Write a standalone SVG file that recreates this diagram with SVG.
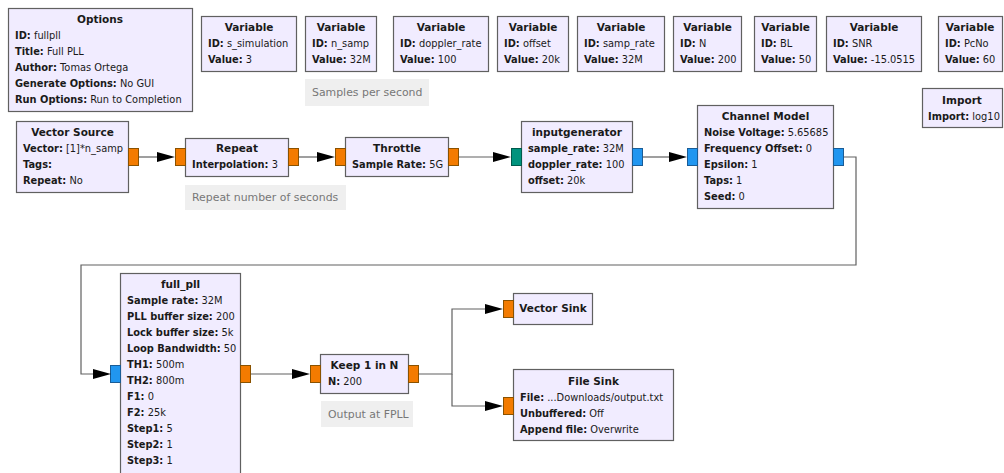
<svg xmlns="http://www.w3.org/2000/svg" width="1004" height="473" viewBox="0 0 1004 473">
<style>
.blk{fill:#F1ECFF;stroke:#606060;stroke-width:1.2}
text{font-family:"DejaVu Sans","Noto Sans",sans-serif;font-size:9.85px;fill:#1a1a1a}
.t{font-weight:bold;text-anchor:middle;font-size:10.5px}
.b{font-weight:bold}
.cm{fill:#EFEFEF}
.ct{fill:#777;font-size:10.9px}
.po{fill:#F37B00;stroke:#8A5200;stroke-width:1}
.pb{fill:#2196F0;stroke:#1A5C96;stroke-width:1}
.pt{fill:#00937D;stroke:#005A4C;stroke-width:1}
.w{fill:none;stroke:#606060;stroke-width:1.2}
.ah{fill:#000}
</style>
<rect width="1004" height="473" fill="#fff"/>

<g id="options">
<rect class="blk" x="8.5" y="8.5" width="184" height="103"/>
<text class="t" x="100" y="23">Options</text>
<text x="15" y="39"><tspan class="b">ID:</tspan> fullpll</text>
<text x="15" y="55"><tspan class="b">Title:</tspan> Full PLL</text>
<text x="15" y="71"><tspan class="b">Author:</tspan> Tomas Ortega</text>
<text x="15" y="87"><tspan class="b">Generate Options:</tspan> No GUI</text>
<text x="15" y="103"><tspan class="b">Run Options:</tspan> Run to Completion</text>
</g>

<g id="var_s_simulation">
<rect class="blk" x="201.5" y="16.5" width="95" height="55"/>
<text class="t" x="249" y="31">Variable</text>
<text x="208" y="47"><tspan class="b">ID:</tspan> s_simulation</text>
<text x="208" y="63"><tspan class="b">Value:</tspan> 3</text>
</g>

<g id="var_n_samp">
<rect class="blk" x="305.5" y="16.5" width="71" height="55"/>
<text class="t" x="341" y="31">Variable</text>
<text x="312" y="47"><tspan class="b">ID:</tspan> n_samp</text>
<text x="312" y="63"><tspan class="b">Value:</tspan> 32M</text>
</g>

<g id="comment_samples">
<rect class="cm" x="305" y="79" width="124" height="27"/>
<text class="ct" x="312" y="96">Samples per second</text>
</g>

<g id="var_doppler_rate">
<rect class="blk" x="393.5" y="16.5" width="95" height="55"/>
<text class="t" x="441" y="31">Variable</text>
<text x="400" y="47"><tspan class="b">ID:</tspan> doppler_rate</text>
<text x="400" y="63"><tspan class="b">Value:</tspan> 100</text>
</g>

<g id="var_offset">
<rect class="blk" x="497.5" y="16.5" width="71" height="55"/>
<text class="t" x="533" y="31">Variable</text>
<text x="504" y="47"><tspan class="b">ID:</tspan> offset</text>
<text x="504" y="63"><tspan class="b">Value:</tspan> 20k</text>
</g>

<g id="var_samp_rate">
<rect class="blk" x="577.5" y="16.5" width="87" height="55"/>
<text class="t" x="621" y="31">Variable</text>
<text x="584" y="47"><tspan class="b">ID:</tspan> samp_rate</text>
<text x="584" y="63"><tspan class="b">Value:</tspan> 32M</text>
</g>

<g id="var_N">
<rect class="blk" x="673.5" y="16.5" width="68" height="55"/>
<text class="t" x="707.5" y="31">Variable</text>
<text x="680" y="47"><tspan class="b">ID:</tspan> N</text>
<text x="680" y="63"><tspan class="b">Value:</tspan> 200</text>
</g>

<g id="var_BL">
<rect class="blk" x="754.5" y="16.5" width="62" height="55"/>
<text class="t" x="785.5" y="31">Variable</text>
<text x="761" y="47"><tspan class="b">ID:</tspan> BL</text>
<text x="761" y="63"><tspan class="b">Value:</tspan> 50</text>
</g>

<g id="var_SNR">
<rect class="blk" x="826.5" y="16.5" width="95" height="55"/>
<text class="t" x="874" y="31">Variable</text>
<text x="833" y="47"><tspan class="b">ID:</tspan> SNR</text>
<text x="833" y="63"><tspan class="b">Value:</tspan> -15.0515</text>
</g>

<g id="var_PcNo">
<rect class="blk" x="938.5" y="16.5" width="64" height="55"/>
<text class="t" x="970" y="31">Variable</text>
<text x="945" y="47"><tspan class="b">ID:</tspan> PcNo</text>
<text x="945" y="63"><tspan class="b">Value:</tspan> 60</text>
</g>

<g id="import">
<rect class="blk" x="922.5" y="88.5" width="80" height="39"/>
<text class="t" x="962" y="104">Import</text>
<text x="928" y="120"><tspan class="b">Import:</tspan> log10</text>
</g>

<g id="vector_source">
<rect class="blk" x="16.5" y="121.5" width="112" height="71"/>
<text class="t" x="72.5" y="136">Vector Source</text>
<text x="23" y="152"><tspan class="b">Vector:</tspan> [1]*n_samp</text>
<text x="23" y="168"><tspan class="b">Tags:</tspan></text>
<text x="23" y="184"><tspan class="b">Repeat:</tspan> No</text>
<rect class="po" x="128.5" y="148.5" width="10" height="17"/>
</g>

<g id="repeat">
<rect class="blk" x="185.5" y="138.5" width="103" height="38"/>
<text class="t" x="237" y="152">Repeat</text>
<text x="192" y="168"><tspan class="b">Interpolation:</tspan> 3</text>
<rect class="po" x="175.5" y="148.5" width="10" height="17"/>
<rect class="po" x="288.5" y="148.5" width="10" height="17"/>
</g>

<g id="comment_repeat">
<rect class="cm" x="185" y="185" width="161" height="25"/>
<text class="ct" x="192" y="201">Repeat number of seconds</text>
</g>

<g id="throttle">
<rect class="blk" x="345.5" y="137.5" width="103" height="39"/>
<text class="t" x="397" y="152">Throttle</text>
<text x="352" y="168"><tspan class="b">Sample Rate:</tspan> 5G</text>
<rect class="po" x="335.5" y="148.5" width="10" height="17"/>
<rect class="po" x="448.5" y="148.5" width="10" height="17"/>
</g>

<g id="inputgenerator">
<rect class="blk" x="521.5" y="121.5" width="111" height="71"/>
<text class="t" x="577" y="136">inputgenerator</text>
<text x="528" y="152"><tspan class="b">sample_rate:</tspan> 32M</text>
<text x="528" y="168"><tspan class="b">doppler_rate:</tspan> 100</text>
<text x="528" y="184"><tspan class="b">offset:</tspan> 20k</text>
<rect class="pt" x="511.5" y="148.5" width="10" height="17"/>
<rect class="pb" x="632.5" y="148.5" width="10" height="17"/>
</g>

<g id="channel_model">
<rect class="blk" x="697.5" y="105.5" width="136" height="103"/>
<text class="t" x="765.5" y="120">Channel Model</text>
<text x="704" y="136"><tspan class="b">Noise Voltage:</tspan> 5.65685</text>
<text x="704" y="152"><tspan class="b">Frequency Offset:</tspan> 0</text>
<text x="704" y="168"><tspan class="b">Epsilon:</tspan> 1</text>
<text x="704" y="184"><tspan class="b">Taps:</tspan> 1</text>
<text x="704" y="200"><tspan class="b">Seed:</tspan> 0</text>
<rect class="pb" x="687.5" y="148.5" width="10" height="17"/>
<rect class="pb" x="833.5" y="148.5" width="10" height="17"/>
</g>

<g id="full_pll">
<rect class="blk" x="120.5" y="273.5" width="120" height="210"/>
<text class="t" x="180.5" y="288">full_pll</text>
<text x="127" y="304"><tspan class="b">Sample rate:</tspan> 32M</text>
<text x="127" y="320"><tspan class="b">PLL buffer size:</tspan> 200</text>
<text x="127" y="336"><tspan class="b">Lock buffer size:</tspan> 5k</text>
<text x="127" y="352"><tspan class="b">Loop Bandwidth:</tspan> 50</text>
<text x="127" y="368"><tspan class="b">TH1:</tspan> 500m</text>
<text x="127" y="384"><tspan class="b">TH2:</tspan> 800m</text>
<text x="127" y="400"><tspan class="b">F1:</tspan> 0</text>
<text x="127" y="416"><tspan class="b">F2:</tspan> 25k</text>
<text x="127" y="432"><tspan class="b">Step1:</tspan> 5</text>
<text x="127" y="448"><tspan class="b">Step2:</tspan> 1</text>
<text x="127" y="464"><tspan class="b">Step3:</tspan> 1</text>
<rect class="pb" x="110.5" y="365.5" width="10" height="17"/>
<rect class="po" x="240.5" y="365.5" width="10" height="17"/>
</g>

<g id="keep_1_in_n">
<rect class="blk" x="320.5" y="354.5" width="88" height="39"/>
<text class="t" x="364.5" y="369">Keep 1 in N</text>
<text x="328" y="385"><tspan class="b">N:</tspan> 200</text>
<rect class="po" x="310.5" y="365.5" width="10" height="17"/>
<rect class="po" x="408.5" y="365.5" width="10" height="17"/>
</g>

<g id="comment_output">
<rect class="cm" x="321" y="401" width="92" height="26"/>
<text class="ct" x="328" y="418">Output at FPLL</text>
</g>

<g id="vector_sink">
<rect class="blk" x="513.5" y="293.5" width="79" height="31"/>
<text class="t" x="553" y="312">Vector Sink</text>
<rect class="po" x="503.5" y="300.5" width="10" height="17"/>
</g>

<g id="file_sink">
<rect class="blk" x="513.5" y="369.5" width="160" height="71"/>
<text class="t" x="593.5" y="385">File Sink</text>
<text x="520" y="401"><tspan class="b">File:</tspan> ...Downloads/output.txt</text>
<text x="520" y="417"><tspan class="b">Unbuffered:</tspan> Off</text>
<text x="520" y="433"><tspan class="b">Append file:</tspan> Overwrite</text>
<rect class="po" x="503.5" y="397.5" width="10" height="17"/>
</g>

<g id="connectors">
<path class="w" d="M139 157H160"/>
<polygon class="ah" points="157,152 175,157 157,162"/>
<path class="w" d="M299 157H320"/>
<polygon class="ah" points="317,152 335,157 317,162"/>
<path class="w" d="M459 157H496"/>
<polygon class="ah" points="493,152 511,157 493,162"/>
<path class="w" d="M643 157H672"/>
<polygon class="ah" points="669,152 687,157 669,162"/>
<path class="w" d="M844 157H856V265H81V374H96"/>
<polygon class="ah" points="93,369 111,374 93,379"/>
<path class="w" d="M251 374H296"/>
<polygon class="ah" points="292,369 310,374 292,379"/>
<path class="w" d="M419 374H452V309H488"/>
<polygon class="ah" points="485,304 503,309 485,314"/>
<path class="w" d="M452 374V406H488"/>
<polygon class="ah" points="485,401 503,406 485,411"/>
</g>
</svg>
